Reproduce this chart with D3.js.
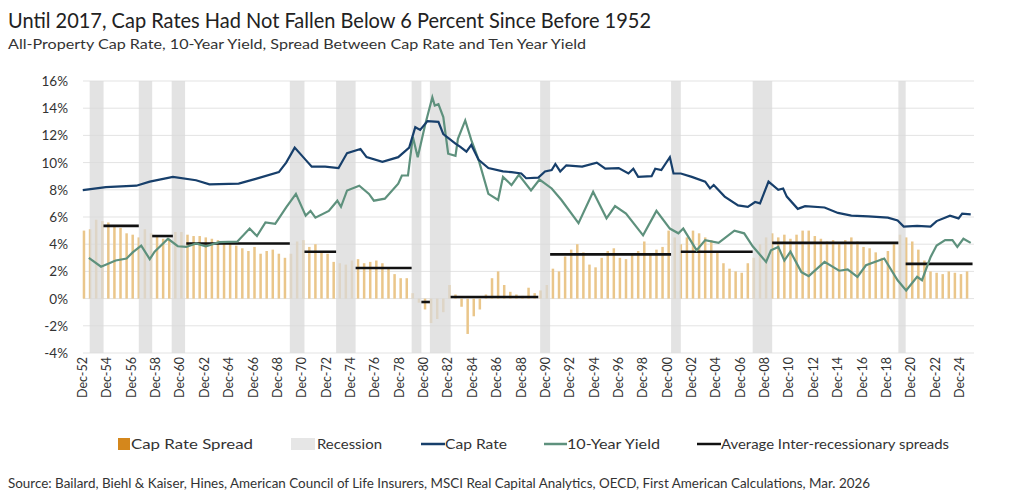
<!DOCTYPE html>
<html><head><meta charset="utf-8">
<script src="https://cdnjs.cloudflare.com/ajax/libs/d3/7.8.5/d3.min.js"></script>
<style>body{margin:0;background:#fff;font-family:Lato,"Open Sans",sans-serif;}</style>
</head><body><svg id="c" width="1024" height="504"></svg>
<script>
const capRate = [[1952.9,7.97],[1954.8,8.2],[1957.3,8.3],[1958.4,8.6],[1960.3,8.95],[1962.2,8.7],[1963.3,8.4],[1965.7,8.45],[1967.1,8.8],[1969.0,9.3],[1969.6,10.0],[1970.3,11.1],[1971.2,10.2],[1971.7,9.7],[1972.8,9.7],[1973.9,9.6],[1974.6,10.7],[1975.7,11.0],[1976.2,10.4],[1977.5,10.05],[1978.8,10.4],[1979.7,11.1],[1980.2,12.6],[1980.6,12.4],[1981.2,13.05],[1982.1,13.0],[1982.5,12.1],[1983.5,11.4],[1983.9,11.15],[1984.4,10.8],[1984.8,11.3],[1985.4,10.2],[1986.2,9.6],[1987.4,9.35],[1988.1,9.3],[1988.9,9.2],[1989.3,8.85],[1990.3,8.9],[1990.85,9.35],[1991.4,9.45],[1991.7,9.9],[1992.1,9.35],[1992.6,9.8],[1993.9,9.7],[1995.1,10.0],[1995.8,9.55],[1996.9,9.6],[1997.7,9.2],[1998.1,9.55],[1998.5,8.95],[1999.6,9.0],[1999.9,9.55],[2000.4,9.45],[2001.1,10.4],[2001.4,9.2],[2002.0,9.2],[2002.9,8.95],[2004.0,8.6],[2004.4,8.1],[2004.7,8.35],[2005.6,7.5],[2006.7,6.85],[2007.5,6.75],[2008.1,7.1],[2008.5,7.0],[2009.2,8.6],[2010.0,8.0],[2010.4,8.1],[2010.7,7.5],[2011.6,6.6],[2012.2,6.8],[2013.8,6.7],[2014.9,6.3],[2016.0,6.1],[2017.4,6.05],[2019.0,5.95],[2019.8,5.75],[2020.3,5.3],[2021.4,5.35],[2022.5,5.3],[2023.0,5.7],[2024.1,6.1],[2024.8,5.9],[2025.1,6.25],[2025.8,6.2]];
const tenYear = [[1953.4,3.0],[1954.4,2.35],[1955.6,2.8],[1956.5,2.95],[1957.0,3.4],[1957.7,3.9],[1958.4,2.9],[1958.8,3.45],[1959.9,4.4],[1960.7,3.85],[1961.4,3.8],[1962.2,4.05],[1963.0,3.85],[1964.1,4.15],[1965.6,4.2],[1966.6,5.15],[1967.2,4.6],[1967.9,5.6],[1968.7,5.5],[1969.6,6.7],[1970.4,7.7],[1971.2,6.1],[1971.6,6.45],[1972.0,5.95],[1973.1,6.45],[1973.8,7.2],[1974.1,6.75],[1974.6,7.95],[1975.6,8.3],[1976.4,7.7],[1976.8,7.2],[1977.7,7.35],[1978.8,8.45],[1979.1,9.05],[1979.6,9.05],[1980.0,11.9],[1980.4,10.4],[1981.0,12.75],[1981.6,14.8],[1981.8,14.2],[1982.1,14.3],[1982.5,13.35],[1982.9,10.65],[1983.5,10.5],[1983.7,11.75],[1984.3,13.1],[1984.8,11.65],[1985.4,10.2],[1986.2,7.7],[1987.0,7.25],[1987.4,8.95],[1988.1,8.35],[1988.7,9.1],[1989.7,7.95],[1990.4,8.75],[1991.4,8.1],[1992.2,7.25],[1993.6,5.55],[1994.8,7.85],[1995.9,5.9],[1996.6,6.8],[1997.5,6.25],[1998.9,4.65],[2000.0,6.45],[2001.1,5.15],[2001.8,4.8],[2002.2,5.15],[2003.3,3.55],[2004.0,4.3],[2005.1,4.1],[2006.4,5.0],[2007.2,4.8],[2007.9,3.85],[2009.0,2.7],[2009.4,3.55],[2010.0,3.8],[2010.5,2.8],[2011.0,3.45],[2011.9,1.95],[2012.5,1.65],[2013.8,2.7],[2015.0,2.05],[2015.7,2.15],[2016.5,1.6],[2017.2,2.45],[2018.7,2.95],[2019.8,1.35],[2020.5,0.6],[2021.4,1.6],[2021.8,1.35],[2022.5,3.05],[2023.0,3.9],[2023.7,4.3],[2024.3,4.3],[2024.7,3.8],[2025.2,4.4],[2025.8,4.1]];
const spread = [[1953.0,5.0],[1953.5,5.1],[1954.0,5.8],[1954.5,5.7],[1955.0,5.6],[1955.5,5.4],[1956.0,5.2],[1956.5,4.8],[1957.0,4.7],[1957.5,4.5],[1958.0,5.1],[1958.5,4.8],[1959.0,4.6],[1959.5,4.4],[1960.0,4.4],[1960.5,4.9],[1961.0,4.9],[1961.5,4.7],[1962.0,4.6],[1962.5,4.6],[1963.0,4.5],[1963.5,4.4],[1964.0,4.3],[1964.5,4.2],[1965.0,4.1],[1965.5,3.9],[1966.0,3.7],[1966.5,3.5],[1967.0,3.8],[1967.5,3.3],[1968.0,3.5],[1968.5,3.6],[1969.0,3.3],[1969.5,3.0],[1970.0,3.3],[1970.5,4.2],[1971.0,4.3],[1971.5,3.8],[1972.0,4.0],[1972.5,3.5],[1973.0,3.3],[1973.5,2.7],[1974.0,2.6],[1974.5,2.5],[1975.0,2.8],[1975.5,2.9],[1976.0,2.6],[1976.5,2.7],[1977.0,2.8],[1977.5,2.6],[1978.0,2.3],[1978.5,1.8],[1979.0,1.5],[1979.5,1.5],[1980.0,0.4],[1980.5,-0.3],[1981.0,-0.8],[1981.5,-1.8],[1982.0,-1.5],[1982.5,-1.0],[1983.0,1.0],[1983.5,0.3],[1984.0,-0.6],[1984.5,-2.6],[1985.0,-1.3],[1985.5,-0.8],[1986.0,0.3],[1986.5,1.5],[1987.0,2.0],[1987.5,1.0],[1988.0,0.5],[1988.5,0.3],[1989.0,0.2],[1989.5,0.8],[1990.0,0.4],[1990.5,0.6],[1991.0,1.0],[1991.5,2.2],[1992.0,2.0],[1992.5,3.1],[1993.0,3.6],[1993.5,4.0],[1994.0,3.4],[1994.5,2.5],[1995.0,2.3],[1995.5,3.0],[1996.0,3.5],[1996.5,3.7],[1997.0,3.0],[1997.5,2.9],[1998.0,3.2],[1998.5,3.5],[1999.0,4.2],[1999.5,3.3],[2000.0,3.6],[2000.5,3.8],[2001.0,5.0],[2001.5,4.5],[2002.0,4.0],[2002.5,4.5],[2003.0,5.0],[2003.5,4.8],[2004.0,4.5],[2004.5,4.3],[2005.0,3.5],[2005.5,2.6],[2006.0,2.2],[2006.5,2.0],[2007.0,1.9],[2007.5,2.6],[2008.0,3.0],[2008.5,4.0],[2009.0,4.5],[2009.5,4.8],[2010.0,4.5],[2010.5,4.7],[2011.0,4.4],[2011.5,4.7],[2012.0,5.0],[2012.5,5.0],[2013.0,4.6],[2013.5,4.4],[2014.0,4.2],[2014.5,4.3],[2015.0,4.1],[2015.5,4.3],[2016.0,4.5],[2016.5,4.2],[2017.0,3.8],[2017.5,3.7],[2018.0,3.4],[2018.5,3.0],[2019.0,3.5],[2019.5,4.0],[2020.0,4.7],[2020.5,4.5],[2021.0,4.2],[2021.5,3.6],[2022.0,2.8],[2022.5,2.0],[2023.0,1.9],[2023.5,1.8],[2024.0,2.0],[2024.5,1.9],[2025.0,1.8],[2025.5,2.0]];
const recessions = [[1953.47,1954.61],[1957.5,1958.6],[1960.2,1961.3],[1969.9,1971.1],[1973.7,1975.3],[1979.9,1980.7],[1981.4,1983.1],[1990.45,1991.27],[2001.2,2002.0],[2007.9,2009.5],[2019.86,2020.46]];
const avgSpreads = [[1954.6,1957.5,5.35],[1958.6,1960.3,4.6],[1961.4,1969.9,4.05],[1971.1,1973.7,3.45],[1975.3,1979.9,2.25],[1980.7,1981.4,-0.25],[1983.1,1990.3,0.12],[1991.27,2001.2,3.25],[2002.0,2007.9,3.45],[2009.5,2019.86,4.1],[2020.46,2025.95,2.55]];
const yTicks = [-4,-2,0,2,4,6,8,10,12,14,16];
const xTickYears = d3.range(1952,2025,2);

const svg = d3.select('#c');
const x = d3.scaleLinear().domain([1952.92,2024.92]).range([83,960]);
const y = d3.scaleLinear().domain([-4,16]).range([353,81]);
const L=83, R=974;

function txt(g,xp,yp,size,s,len){const t=g.append('text').attr('x',xp).attr('y',yp).attr('font-size',size).attr('fill','#222').text(s);
 if(len) t.attr('textLength',len).attr('lengthAdjust','spacingAndGlyphs'); return t;}

txt(svg,8,28,20.5,'Until 2017, Cap Rates Had Not Fallen Below 6 Percent Since Before 1952',643);
txt(svg,8,49,14,'All-Property Cap Rate, 10-Year Yield, Spread Between Cap Rate and Ten Year Yield',578).attr('fill','#333');

svg.append('g').selectAll('line').data(yTicks).join('line')
 .attr('x1',L).attr('x2',R).attr('y1',d=>y(d)).attr('y2',d=>y(d)).attr('stroke','#e3e3e3').attr('stroke-width',1);
svg.append('g').selectAll('text').data(yTicks).join('text')
 .attr('x',68).attr('y',d=>y(d)+5).attr('text-anchor','end').attr('font-size',13.5).attr('fill','#333').text(d=>d+'%');

svg.append('g').selectAll('rect').data(spread).join('rect')
 .attr('x',d=>x(d[0])-1.25).attr('width',2.5)
 .attr('y',d=>y(Math.max(0,d[1]))).attr('height',d=>Math.abs(y(d[1])-y(0)))
 .attr('fill','#eac68a');

svg.append('g').selectAll('rect').data(recessions).join('rect')
 .attr('x',d=>x(d[0])).attr('width',d=>x(d[1])-x(d[0]))
 .attr('y',y(16)).attr('height',y(-4)-y(16)).attr('fill','#d9d9d9').attr('opacity',0.75);

svg.append('g').selectAll('line').data(avgSpreads).join('line')
 .attr('x1',d=>x(d[0])).attr('x2',d=>x(d[1])).attr('y1',d=>y(d[2])).attr('y2',d=>y(d[2]))
 .attr('stroke','#111').attr('stroke-width',2.6);

const line = d3.line().x(d=>x(d[0])).y(d=>y(d[1]));
svg.append('path').datum(tenYear).attr('d',line).attr('fill','none').attr('stroke','#5e917d').attr('stroke-width',2.2);
svg.append('path').datum(capRate).attr('d',line).attr('fill','none').attr('stroke','#173f6b').attr('stroke-width',2.2);

svg.append('g').selectAll('text').data(xTickYears).join('text')
 .attr('transform',d=>`translate(${x(d+0.92)+4},357) rotate(-90)`)
 .attr('text-anchor','end').attr('font-size',12.5).attr('fill','#333')
 .text(d=>'Dec-'+String(d%100).padStart(2,'0'));

const lg = svg.append('g');
const ly=444;
lg.append('rect').attr('x',118).attr('y',ly-6).attr('width',12).attr('height',12).attr('fill','#d4871c');
txt(lg,131,ly+5,13.5,'Cap Rate Spread',122).attr('fill','#333');
lg.append('rect').attr('x',291).attr('y',ly-6).attr('width',24).attr('height',12).attr('fill','#e6e6e6');
txt(lg,317,ly+5,13.5,'Recession',65).attr('fill','#333');
lg.append('line').attr('x1',421).attr('x2',445).attr('y1',ly).attr('y2',ly).attr('stroke','#173f6b').attr('stroke-width',2.5);
txt(lg,445,ly+5,13.5,'Cap Rate',62).attr('fill','#333');
lg.append('line').attr('x1',544).attr('x2',567).attr('y1',ly).attr('y2',ly).attr('stroke','#5e917d').attr('stroke-width',2.5);
txt(lg,567,ly+5,13.5,'10-Year Yield',93).attr('fill','#333');
lg.append('line').attr('x1',697).attr('x2',721).attr('y1',ly).attr('y2',ly).attr('stroke','#111').attr('stroke-width',2.5);
txt(lg,721,ly+5,13.5,'Average Inter-recessionary spreads',228).attr('fill','#333');

txt(svg,8,488,12.5,'Source: Bailard, Biehl & Kaiser, Hines, American Council of Life Insurers, MSCI Real Capital Analytics, OECD, First American Calculations, Mar. 2026',862).attr('fill','#333');
</script></body></html>
